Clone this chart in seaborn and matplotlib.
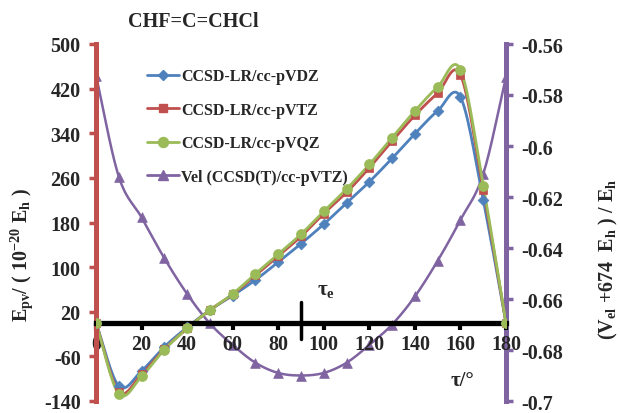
import numpy as np
import pandas as pd
import matplotlib
matplotlib.use("Agg")
import matplotlib.pyplot as plt
import seaborn as sns
from matplotlib.lines import Line2D

# ---- data ----
tau = [0, 10, 20, 30, 40, 50, 60, 70, 80, 90, 100, 110, 120, 130, 140, 150, 160, 170, 180]
vdz = [0, -113, -86, -43, -8, 23, 49, 77, 109, 142, 177, 215, 253, 295, 339, 380, 405, 221, 0]
vtz = [0, -123, -92, -47, -10, 23, 51, 85, 120, 155, 196, 234, 278, 326, 372, 412, 445, 238, 0]
vqz = [0, -127, -96, -48, -10, 23, 52, 88, 123, 159, 200, 240, 284, 332, 380, 423, 454, 246, 0]
vel = [-0.5724, -0.612, -0.628, -0.644, -0.658, -0.6696, -0.678, -0.685, -0.689, -0.690,
       -0.689, -0.685, -0.678, -0.670, -0.659, -0.645, -0.629, -0.611, -0.573]
labels = ["CCSD-LR/cc-pVDZ", "CCSD-LR/cc-pVTZ", "CCSD-LR/cc-pVQZ", "Vel (CCSD(T)/cc-pVTZ)"]
left_ticks = [500, 420, 340, 260, 180, 100, 20, -60, -140]
right_ticks = [-0.56, -0.58, -0.6, -0.62, -0.64, -0.66, -0.68, -0.7]
right_ticklabels = ["-0.56", "-0.58", "-0.6", "-0.62", "-0.64", "-0.66", "-0.68", "-0.7"]
x_ticks = [0, 20, 40, 60, 80, 100, 120, 140, 160, 180]

colors = ["#4F81BD", "#C0504D", "#9BBB59", "#8064A2"]
markers = ["D", "s", "o", "^"]
msizes = [5.5, 6, 7.2, 7]


def smooth(x, y, n=16):
    """Catmull-Rom curve through the data points (rendering only)."""
    x = np.asarray(x, float); y = np.asarray(y, float)
    P = np.column_stack([x, y])
    P = np.vstack([P[0] * 2 - P[1], P, P[-1] * 2 - P[-2]])
    out = []
    t = np.linspace(0, 1, n, endpoint=False)[:, None]
    for i in range(1, len(P) - 2):
        p0, p1, p2, p3 = P[i - 1], P[i], P[i + 1], P[i + 2]
        m1 = (p2 - p0) / 2
        m2 = (p3 - p1) / 2
        h00 = 2 * t**3 - 3 * t**2 + 1
        h10 = t**3 - 2 * t**2 + t
        h01 = -2 * t**3 + 3 * t**2
        h11 = t**3 - t**2
        out.append(h00 * p1 + h10 * m1 + h01 * p2 + h11 * m2)
    out.append(P[-2][None, :])
    S = np.vstack(out)
    return S[:, 0], S[:, 1]


sns.set_style("white")
plt.rcParams["font.family"] = ["Liberation Serif", "DejaVu Serif"]
plt.rcParams["font.weight"] = "bold"
plt.rcParams["mathtext.fontset"] = "custom"
plt.rcParams["mathtext.rm"] = "Liberation Serif:bold"
plt.rcParams["mathtext.it"] = "Liberation Serif:bold"
plt.rcParams["mathtext.bf"] = "Liberation Serif:bold"

fig = plt.figure(figsize=(6.2, 4.14), dpi=100)
ax = fig.add_axes([96 / 620, 1 - 402 / 414, (506 - 96) / 620, (402 - 45) / 414])
ax2 = ax.twinx()

# left axis series
for yv, c, m, ms in zip([vdz, vtz, vqz], colors[:3], markers[:3], msizes[:3]):
    sx, sy = smooth(tau, yv)
    sns.lineplot(x=sx, y=sy, ax=ax, color=c, lw=2, sort=False, estimator=None)
    sns.scatterplot(x=tau, y=yv, ax=ax, color=c, marker=m, s=ms**2, edgecolor=c, linewidth=0.5, zorder=5)

# right axis series
sx, sy = smooth(tau, vel)
sns.lineplot(x=sx, y=sy, ax=ax2, color=colors[3], lw=1.8, sort=False, estimator=None)
sns.scatterplot(x=tau, y=vel, ax=ax2, color=colors[3], marker="^", s=msizes[3]**2,
                edgecolor=colors[3], linewidth=0.5, zorder=5)

ax.set_zorder(ax2.get_zorder() + 1)
ax.patch.set_visible(False)

ax.set_xlim(0, 180)
ax.set_ylim(-140, 500)
ax2.set_ylim(-0.70, -0.56)

# spines
for s in ["top", "right"]:
    ax.spines[s].set_visible(False)
for s in ["top", "bottom", "left"]:
    ax2.spines[s].set_visible(False)
ax.spines["left"].set_color(colors[1])
ax.spines["left"].set_linewidth(3.6)
ax.spines["bottom"].set_position(("data", 0))
ax.spines["bottom"].set_color("black")
ax.spines["bottom"].set_linewidth(3.8)
ax2.spines["right"].set_color(colors[3])
ax2.spines["right"].set_linewidth(3.6)

ax.set_yticks(left_ticks)
ax.set_yticklabels([str(v) for v in left_ticks])
ax.set_xticks(x_ticks)
ax.set_xticklabels([str(v) for v in x_ticks])
ax2.set_yticks(right_ticks)
ax2.set_yticklabels(right_ticklabels)

ax.tick_params(axis="y", direction="out", length=5, width=2.5, color=colors[1],
               labelsize=14.5, pad=6, left=True)
ax.tick_params(axis="x", direction="out", length=5, width=3, color="black",
               labelsize=14.5, pad=3, bottom=True)
ax2.tick_params(axis="y", direction="out", length=5, width=2.5, color=colors[3],
                labelsize=14.5, pad=6, right=True)
for lab in ax.get_xticklabels() + ax.get_yticklabels() + ax2.get_yticklabels():
    lab.set_fontweight("bold")
for lab in ax.get_xticklabels():
    lab.set_zorder(10)

ax.set_xlabel("")
ax.set_ylabel("")
ax2.set_ylabel("")

# tau_e marker
ax.plot([90, 90], [-28, 38], color="black", lw=2.5, zorder=6)
ax.text(101, 60, r"$\mathbf{\tau_e}$", fontsize=15, ha="center", va="center")
ax.text(161, -102, r"τ/°", fontsize=15, fontweight="bold", ha="center", va="center")

# titles / labels
fig.text(193 / 620, 1 - 22 / 414, "CHF=C=CHCl", fontsize=14.5, fontweight="bold",
         ha="center", va="center")
fig.text(22 / 620, 1 - 255 / 414, r"E$_{\rm pv}$/ ( 10$^{-20}$ E$_{\rm h}$ )", fontsize=14.5,
         fontweight="bold", rotation=90, ha="center", va="center")
fig.text(608 / 620, 1 - 259 / 414, r"(V$_{\rm el}$ +674  E$_{\rm h}$ ) / E$_{\rm h}$", fontsize=14.5,
         fontweight="bold", rotation=90, ha="center", va="center")

handles = [Line2D([0], [0], color=c, lw=2, marker=m, markersize=ms, markeredgecolor=c)
           for c, m, ms in zip(colors, markers, msizes)]
leg = ax.legend(handles, labels, loc="upper left", bbox_to_anchor=(0.11, 0.95),
                frameon=False, fontsize=11.5, labelspacing=1.1, handlelength=2.0,
                handletextpad=0.1, borderaxespad=0)
for t in leg.get_texts():
    t.set_fontweight("bold")

fig.savefig("out.png", dpi=100)
